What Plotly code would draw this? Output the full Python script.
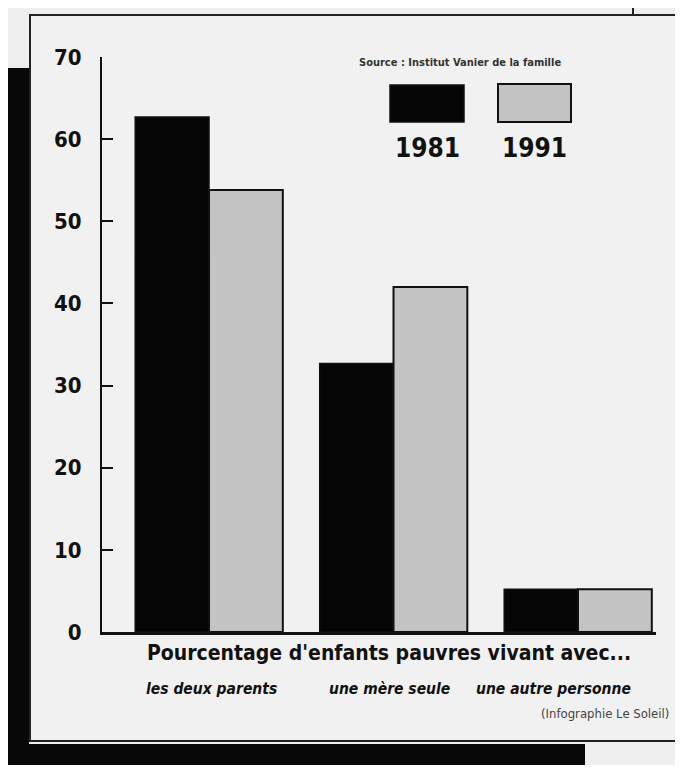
import plotly.graph_objects as go

# ---- data ----
categories = ["les deux parents", "une mère seule", "une autre personne"]
years = ["1981", "1991"]
values_1981 = [62.7, 32.7, 5.2]
values_1991 = [53.8, 42.0, 5.2]
y_ticks = [0, 10, 20, 30, 40, 50, 60, 70]
title_text = "Pourcentage d'enfants pauvres vivant avec..."
source_text = "Source : Institut Vanier de la famille"
credit_text = "(Infographie Le Soleil)"

# page has an 8px body margin: size the figure to fit inside it
OFF = 8
W, H = 683 - 2 * OFF, 773 - 2 * OFF
def px(x):
    return (x - OFF) / W
def py(y):
    return 1 - (y - OFF) / H

FONT = "Liberation Sans Narrow, DejaVu Sans Condensed, Arial Narrow, sans-serif"
BG = "#efefef"
GRAY = "#c4c4c4"

fig = go.Figure()
fig.add_trace(go.Bar(x=[0, 1, 2], y=values_1981, name=years[0],
                     marker=dict(color="#050505", line=dict(color="#111", width=1.5))))
fig.add_trace(go.Bar(x=[0, 1, 2], y=values_1991, name=years[1],
                     marker=dict(color=GRAY, line=dict(color="#111", width=2))))

shapes = [
    dict(type="rect", xref="paper", yref="paper", x0=px(30), x1=px(681), y0=py(741), y1=py(15),
         line=dict(color="#222", width=2), fillcolor="#f1f1f1", layer="below"),
    dict(type="rect", xref="paper", yref="paper", x0=px(7), x1=px(29), y0=py(770), y1=py(68),
         line=dict(width=0), fillcolor="#080808", layer="below"),
    dict(type="rect", xref="paper", yref="paper", x0=px(7), x1=px(585), y0=py(770), y1=py(744),
         line=dict(width=0), fillcolor="#080808", layer="below"),
    dict(type="line", xref="paper", yref="paper", x0=px(633), x1=px(633), y0=py(8), y1=py(15),
         line=dict(color="#222", width=2)),
    dict(type="rect", xref="paper", yref="paper", x0=px(390), x1=px(464), y0=py(122), y1=py(85),
         line=dict(color="#111", width=1.5), fillcolor="#050505"),
    dict(type="rect", xref="paper", yref="paper", x0=px(498), x1=px(571), y0=py(122), y1=py(84),
         line=dict(color="#111", width=2), fillcolor=GRAY),
]

annotations = [
    dict(text="<b>%s</b>" % source_text, x=px(460), y=py(62), xref="paper", yref="paper", showarrow=False,
         font=dict(family=FONT, size=11, color="#333"), xanchor="center", yanchor="middle"),
    dict(text="<b>%s</b>" % years[0], x=px(427), y=py(148), xref="paper", yref="paper", showarrow=False,
         font=dict(family=FONT, size=26, color="#111"), xanchor="center", yanchor="middle"),
    dict(text="<b>%s</b>" % years[1], x=px(534), y=py(148), xref="paper", yref="paper", showarrow=False,
         font=dict(family=FONT, size=26, color="#111"), xanchor="center", yanchor="middle"),
    dict(text="<b>%s</b>" % title_text, x=px(389), y=py(653), xref="paper", yref="paper", showarrow=False,
         font=dict(family=FONT, size=21, color="#111"), xanchor="center", yanchor="middle"),
    dict(text=credit_text, x=px(671), y=py(713), xref="paper", yref="paper", showarrow=False,
         font=dict(family=FONT, size=13, color="#444"), xanchor="right", yanchor="middle"),
]
cat_x = [211, 389, 553]
for c, xc in zip(categories, cat_x):
    annotations.append(dict(text="<b><i>%s</i></b>" % c, x=px(xc), y=py(689), xref="paper", yref="paper",
                            showarrow=False, font=dict(family=FONT, size=15.5, color="#111"),
                            xanchor="center", yanchor="middle"))

fig.update_layout(
    width=W, height=H, autosize=False,
    margin=dict(l=0, r=0, t=0, b=0, pad=0, autoexpand=False),
    paper_bgcolor=BG, plot_bgcolor="rgba(0,0,0,0)",
    barmode="group", bargap=0.2, bargroupgap=0,
    showlegend=False,
    shapes=shapes, annotations=annotations,
    xaxis=dict(domain=[px(102), px(102 + 3 * 184.5)], range=[-0.58, 2.42],
               showticklabels=False, ticks="", showgrid=False, zeroline=False, automargin=False,
               showline=True, linecolor="#111", linewidth=2.5),
    yaxis=dict(domain=[py(632), py(57)], range=[0, 70], tickvals=y_ticks,
               ticktext=["<b>%d</b>" % v for v in y_ticks], automargin=False,
               ticks="inside", ticklen=11, tickwidth=2, tickcolor="#111",
               showgrid=False, zeroline=False, showline=True, linecolor="#111", linewidth=2,
               ticklabelstandoff=14,
               tickfont=dict(family=FONT, size=22, color="#111")),
)

fig.write_html("out.html")
